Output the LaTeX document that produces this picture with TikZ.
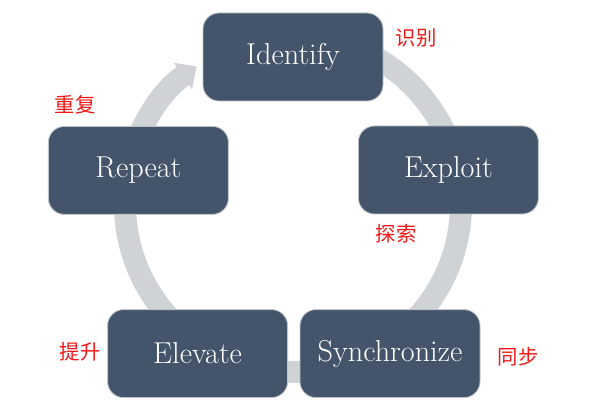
\documentclass[tikz,border=0pt]{standalone}
\usepackage{fontspec}
\newfontfamily\cjk{Noto Sans CJK SC}
\usetikzlibrary{arrows.meta}
\usetikzlibrary{calc}
\definecolor{boxblue}{HTML}{44546A}
\definecolor{ringgrey}{HTML}{D0D3D6}
\definecolor{boxline}{HTML}{BCC3CB}
\definecolor{notered}{HTML}{F01818}

\begin{document}
\begin{tikzpicture}[font=\fontsize{21.5}{24}\selectfont,
stage/.style={draw=boxline,line width=0.6pt,fill=boxblue,text=white,
rounded corners=0.4cm,minimum width=4.5cm,minimum height=2.2cm},
note/.style={text=notered,font=\cjk\fontsize{14.5}{16}\selectfont}]
\useasboundingbox(0,0)rectangle(14.8,10.45);
%%ring
\coordinate(O)at(7.325,5.35);
\draw[ringgrey,line width=0.55cm,-{Triangle[width=0.78cm,length=0.42cm]}]
($(O)+(85:4.2)$)arc[start angle=85,end angle=-235,radius=4.2];

%%stages
\node[stage](Identify)at(7.325,9.025){Identify};
\node[stage](Exploit)at(11.21,6.2){Exploit};
\node[stage](Synchronize)at(9.75,1.61){Synchronize};
\node[stage](Elevate)at(4.94,1.61){Elevate};
\node[stage](Repeat)at(3.46,6.19){Repeat};

%notes
\node[note](NIdentify)at(10.4,9.5){识别};
\node[note](NExploit)at(9.9,4.62){探索};
\node[note](NSynchronize)at(12.95,1.52){同步};
\node[note](NElevate)at(2.0,1.65){提升};
\node[note](NRepeat)at(1.88,7.83){重复};
\end{tikzpicture}
\end{document}
